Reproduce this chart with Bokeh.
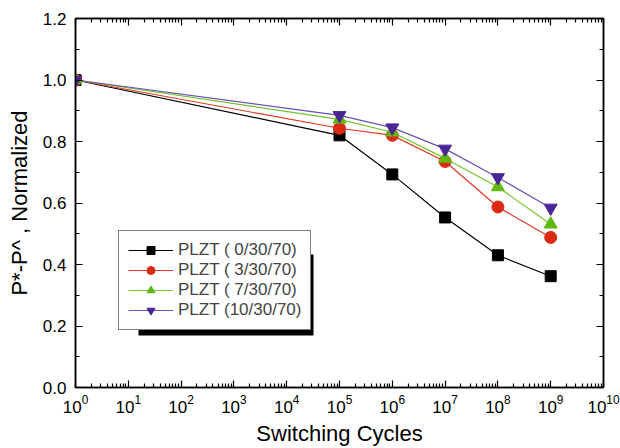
from bokeh.plotting import figure
from bokeh.models import (Range1d, LogAxis, LinearAxis, FixedTicker, BoxAnnotation,
                          Legend, LegendItem, NumeralTickFormatter, LogTickFormatter,
                          CustomJSTickFormatter)
from bokeh.embed import file_html
from bokeh.resources import INLINE

cycles = [1e0, 1e5, 1e6, 1e7, 1e8, 1e9]
plzt_0 = [1.0, 0.82, 0.693, 0.553, 0.43, 0.362]
plzt_3 = [1.0, 0.843, 0.82, 0.735, 0.587, 0.488]
plzt_7 = [1.0, 0.872, 0.83, 0.745, 0.652, 0.531]
plzt_10 = [1.0, 0.885, 0.845, 0.776, 0.683, 0.584]
labels = ["PLZT ( 0/30/70)", "PLZT ( 3/30/70)", "PLZT ( 7/30/70)", "PLZT (10/30/70)"]
x_decades = list(range(0, 11))
y_ticks = [0.0, 0.2, 0.4, 0.6, 0.8, 1.0, 1.2]
y_minor = [0.1, 0.3, 0.5, 0.7, 0.9, 1.1]

FONT = "Liberation Sans"
x_major = [10.0 ** d for d in x_decades]
x_minor = [k * 10.0 ** d for d in x_decades[:-1] for k in range(2, 10)]

FW, FH = 528, 369
p = figure(frame_width=FW, frame_height=FH, x_axis_type="log", output_backend="svg",
           toolbar_location=None, x_range=Range1d(1, 1e10), y_range=Range1d(0, 1.2),
           min_border_left=75, min_border_right=17, min_border_top=18, min_border_bottom=61)
p.grid.visible = False
p.outline_line_color = "black"
p.outline_line_width = 1.5
p.background_fill_color = "white"

series = [
    (plzt_0, "black", "black", "square", 11),
    (plzt_3, "#e0391f", "#dd2a12", "circle", 12),
    (plzt_7, "#72c42a", "#5fb80a", "triangle", 13),
    (plzt_10, "#6b52b8", "#4a2596", "inverted_triangle", 13),
]
items = []
for (ys, lc, mc, mk, sz), lab in zip(series, labels):
    l = p.line(cycles, ys, line_color=lc, line_width=1.2)
    s = p.scatter(cycles, ys, marker=mk, size=sz, fill_color=mc, line_color=mc)
    items.append(LegendItem(label=lab, renderers=[l, s]))

def style_axis(ax, labels_on=True):
    ax.major_tick_in = 7
    ax.major_tick_out = 0
    ax.minor_tick_in = 4
    ax.minor_tick_out = 0
    ax.axis_line_color = "black"
    ax.axis_line_width = 1.5
    ax.major_tick_line_width = 1.2
    ax.minor_tick_line_width = 1.2
    ax.major_label_text_font = FONT
    ax.major_label_text_font_size = "17px"
    ax.major_label_text_color = "black"
    ax.axis_label_text_font = FONT
    ax.axis_label_text_font_size = "22px"
    ax.axis_label_text_font_style = "normal"
    ax.axis_label_text_color = "black"
    if not labels_on:
        ax.formatter = CustomJSTickFormatter(code="return ''")
        ax.major_label_text_font_size = "0px"
        ax.major_label_standoff = 0
        ax.axis_label_standoff = 0

xa = p.xaxis[0]
xa.ticker = FixedTicker(ticks=x_major, minor_ticks=x_minor)
xa.formatter = LogTickFormatter()
xa.axis_label = "Switching Cycles"
style_axis(xa)
xa.major_label_standoff = 7
xa.axis_label_standoff = 5

ya = p.yaxis[0]
ya.ticker = FixedTicker(ticks=y_ticks, minor_ticks=y_minor)
ya.formatter = NumeralTickFormatter(format="0.0")
ya.axis_label = "P*-P^ , Normalized"
style_axis(ya)
ya.major_label_standoff = 9
ya.axis_label_standoff = 8

top = LogAxis(ticker=FixedTicker(ticks=x_major, minor_ticks=x_minor))
style_axis(top, labels_on=False)
p.add_layout(top, "above")
right = LinearAxis(ticker=FixedTicker(ticks=y_ticks, minor_ticks=y_minor))
style_axis(right, labels_on=False)
p.add_layout(right, "right")

# legend drop shadow (screen offsets converted to data units of the frame)
px_dec = FW / 10.0
px_unit = FH / 1.2
leg_x, leg_y, leg_w, leg_h = 43, 57, 190, 96
shadow = BoxAnnotation(left=10 ** ((leg_x + 20) / px_dec),
                       right=10 ** ((leg_x + leg_w + 5) / px_dec),
                       bottom=(leg_y - 5) / px_unit,
                       top=(leg_y + leg_h - 20) / px_unit,
                       fill_color="black", fill_alpha=1.0, line_alpha=0)
p.add_layout(shadow)

legend = Legend(items=items, location=(leg_x, leg_y),
                label_text_font=FONT, label_text_font_size="17px",
                label_height=20, glyph_height=20, glyph_width=45,
                label_standoff=5, spacing=0, padding=9, margin=0,
                border_line_color="black", border_line_width=1.2,
                background_fill_color="white", background_fill_alpha=1.0)
p.add_layout(legend, "center")

open("out.html", "w").write(file_html(p, INLINE))
